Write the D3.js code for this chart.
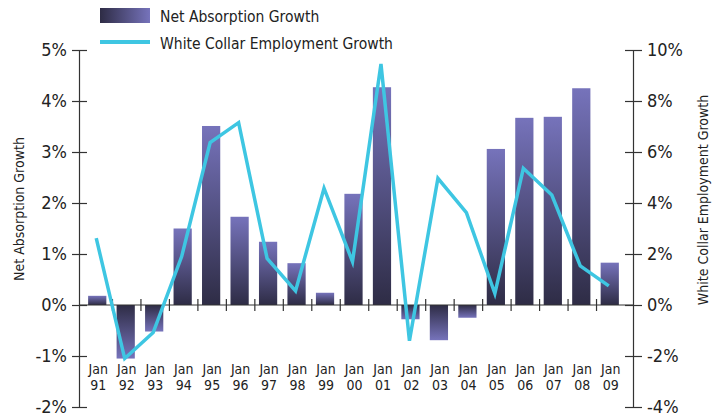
<!DOCTYPE html>
<html>
<head>
<meta charset="utf-8">
<script src="https://cdn.jsdelivr.net/npm/d3@7"></script>
<style>
  body { margin: 0; background: #fff; }
  svg text { font-family: "DejaVu Sans Condensed", "DejaVu Sans", sans-serif; font-stretch: condensed; fill: #222; }
</style>
</head>
<body>
<div id="vis-container"></div>
<script>
// data
var years = ['91','92','93','94','95','96','97','98','99','00','01','02','03','04','05','06','07','08','09']
var absorption = [0.18,-1.05,-0.52,1.50,3.51,1.73,1.24,0.82,0.24,2.18,4.27,-0.28,-0.69,-0.25,3.06,3.67,3.69,4.25,0.83]
var employment = [2.62,-2.10,-1.08,1.90,6.37,7.15,1.83,0.55,4.58,1.70,9.45,-1.40,4.97,3.62,0.45,5.36,4.31,1.53,0.75]
var leftTicks = [-2,-1,0,1,2,3,4,5]
var rightTicks = [-4,-2,0,2,4,6,8,10]

var w = 713, h = 419
var svg = d3.select('#vis-container').append('svg')
    .attr('width', w)
    .attr('height', h)

// gradients
var defs = svg.append('defs')
function grad(id, x1, y1, x2, y2) {
  var g = defs.append('linearGradient').attr('id', id)
    .attr('x1', x1).attr('y1', y1).attr('x2', x2).attr('y2', y2)
  g.append('stop').attr('offset', '0%').attr('stop-color', '#2e2c45')
  g.append('stop').attr('offset', '100%').attr('stop-color', '#7673bb')
}
grad('gradPos', 0, 1, 0, 0)
grad('gradNeg', 0, 0, 0, 1)
grad('gradLeg', 0, 0, 1, 0)

// scales
var xScale = d3.scaleBand().domain(years).range([84, 625]).padding(0)
var yLeft = d3.scaleLinear().domain([-2, 5]).range([407, 50])
var yRight = d3.scaleLinear().domain([-4, 10]).range([407, 50])
var barW = xScale.bandwidth() * 0.64

// bars
svg.selectAll('rect.bar')
    .data(absorption)
    .enter()
  .append('rect')
    .attr('class', 'bar')
    .attr('x', function (d, i) { return xScale(years[i]) + (xScale.bandwidth() - barW) / 2 - 1 })
    .attr('width', barW)
    .attr('y', function (d) { return d >= 0 ? yLeft(d) : yLeft(0) })
    .attr('height', function (d) { return Math.abs(yLeft(d) - yLeft(0)) })
    .attr('fill', function (d) { return d >= 0 ? 'url(#gradPos)' : 'url(#gradNeg)' })

// x axis line with ticks between categories
var x0 = yLeft(0)
svg.append('line')
    .attr('x1', 79).attr('x2', 633)
    .attr('y1', x0).attr('y2', x0)
    .attr('stroke', '#333').attr('stroke-width', 1.2)
svg.selectAll('line.xtick')
    .data(years.slice(1))
    .enter()
  .append('line')
    .attr('class', 'xtick')
    .attr('x1', function (d) { return xScale(d) })
    .attr('x2', function (d) { return xScale(d) })
    .attr('y1', x0 - 6).attr('y2', x0 + 6)
    .attr('stroke', '#333').attr('stroke-width', 1.2)

// x labels
var xl = svg.selectAll('g.xlab')
    .data(years)
    .enter()
  .append('g')
    .attr('class', 'xlab')
    .attr('transform', function (d) { return 'translate(' + (xScale(d) + xScale.bandwidth() / 2) + ',0)' })
xl.append('text').attr('y', 374).attr('text-anchor', 'middle').style('font-size', '14px').text('Jan')
xl.append('text').attr('y', 390).attr('text-anchor', 'middle').style('font-size', '14px').text(function (d) { return d })

// left axis
var leftAxis = d3.axisLeft(yLeft).tickValues(leftTicks).tickSize(0).tickFormat(function (d) { return d + '%' })
var gl = svg.append('g').attr('transform', 'translate(79,0)').call(leftAxis)
gl.select('.domain').attr('stroke', '#333').attr('stroke-width', 1.2)
gl.selectAll('.tick line').remove()
gl.selectAll('.tick').append('line').attr('x1', -7).attr('x2', 8).attr('stroke', '#333').attr('stroke-width', 1.2)
gl.selectAll('.tick text').attr('x', -12).style('font-size', '18px').attr('fill', '#222')

// right axis
var rightAxis = d3.axisRight(yRight).tickValues(rightTicks).tickSize(0).tickFormat(function (d) { return d + '%' })
var gr = svg.append('g').attr('transform', 'translate(633,0)').call(rightAxis)
gr.select('.domain').attr('stroke', '#333').attr('stroke-width', 1.2)
gr.selectAll('.tick line').remove()
gr.selectAll('.tick').append('line').attr('x1', -8).attr('x2', 9).attr('stroke', '#333').attr('stroke-width', 1.2)
gr.selectAll('.tick text').attr('x', 14).style('font-size', '18px').attr('fill', '#222')

// line
var line = d3.line()
    .x(function (d, i) { return xScale(years[i]) + xScale.bandwidth() / 2 - 2 })
    .y(function (d) { return yRight(d) })
svg.append('path')
    .datum(employment)
    .attr('d', line)
    .attr('fill', 'none')
    .attr('stroke', '#3ec6e2')
    .attr('stroke-width', 3.5)
    .attr('stroke-linejoin', 'miter')

// axis titles
svg.append('text')
    .attr('transform', 'translate(24,209) rotate(-90)')
    .attr('text-anchor', 'middle')
    .style('font-size', '14px')
    .text('Net Absorption Growth')
svg.append('text')
    .attr('transform', 'translate(708,200) rotate(-90)')
    .attr('text-anchor', 'middle')
    .style('font-size', '14px')
    .text('White Collar Employment Growth')

// legend
svg.append('rect').attr('x', 100).attr('y', 8).attr('width', 50).attr('height', 15).attr('fill', 'url(#gradLeg)')
svg.append('text').attr('x', 160).attr('y', 22).style('font-size', '15.5px').text('Net Absorption Growth')
svg.append('line').attr('x1', 100).attr('x2', 150).attr('y1', 42).attr('y2', 42).attr('stroke', '#3ec6e2').attr('stroke-width', 4)
svg.append('text').attr('x', 160).attr('y', 49).style('font-size', '15.5px').text('White Collar Employment Growth')
</script>
</body>
</html>
